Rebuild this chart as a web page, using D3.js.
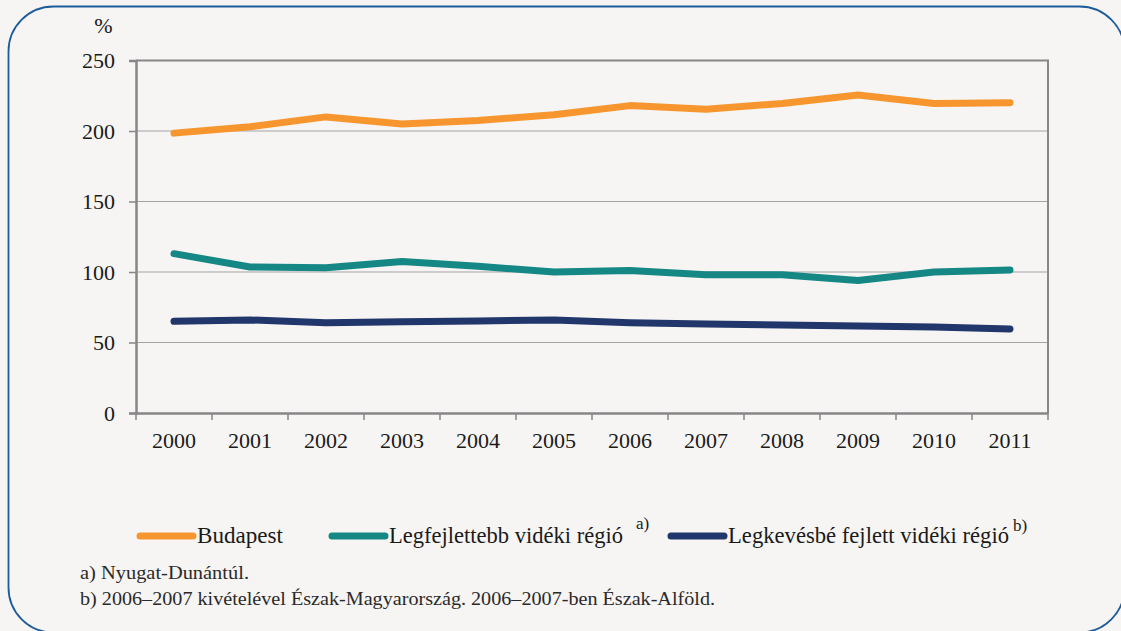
<!DOCTYPE html>
<html>
<head>
<meta charset="utf-8">
<script src="https://cdnjs.cloudflare.com/ajax/libs/d3/7.8.5/d3.min.js"></script>
<style>
  body { margin: 0; background: #f6f5f3; }
  svg { display: block; }
</style>
</head>
<body>
<div id="chart"></div>
<script>
// data
var years = ["2000","2001","2002","2003","2004","2005","2006","2007","2008","2009","2010","2011"];
var budapest = [198.5, 203, 210, 205, 207.5, 211.5, 218, 215.5, 219.5, 225.5, 219.5, 220];
var legfejlettebb = [113, 103.5, 103, 107.5, 104, 100, 101, 98, 98, 94, 100, 101.5];
var legkevesbe = [65, 66, 64, 64.8, 65.2, 66, 64, 63.1, 62.4, 61.7, 61, 59.6];
var yTicks = [0, 50, 100, 150, 200, 250];
var seriesNames = ["Budapest", "Legfejlettebb vidéki régió", "Legkevésbé fejlett vidéki régió"];
var seriesColors = ["#f7962f", "#158784", "#21366b"];
var notes = ["a) Nyugat-Dunántúl.", "b) 2006–2007 kivételével Észak-Magyarország. 2006–2007-ben Észak-Alföld."];

var FONT = "'Liberation Serif', 'DejaVu Serif', serif";
var W = 1121, H = 631;
var margin = {top: 60.5, left: 136, right: 1048, bottom: 413};

var svg = d3.select("#chart").append("svg")
  .attr("width", W).attr("height", H)
  .attr("font-family", FONT);

// frame
svg.append("rect")
  .attr("x", 8.5).attr("y", 6.5)
  .attr("width", 1116).attr("height", 626)
  .attr("rx", 45).attr("ry", 45)
  .attr("fill", "#f6f5f3")
  .attr("stroke", "#1d5c9b")
  .attr("stroke-width", 1.8);

var x = d3.scaleBand().domain(years).range([margin.left, margin.right]);
var y = d3.scaleLinear().domain([0, 250]).range([margin.bottom, margin.top]);

// gridlines
svg.append("g").selectAll("line")
  .data(yTicks.filter(function(d){ return d > 0 && d < 250; }))
  .enter().append("line")
    .attr("x1", margin.left).attr("x2", margin.right)
    .attr("y1", function(d){ return y(d); }).attr("y2", function(d){ return y(d); })
    .attr("stroke", "#a3a1a3").attr("stroke-width", 1.2);

// plot border (top, right)
svg.append("path")
  .attr("d", "M" + margin.left + "," + margin.top + "H" + margin.right + "V" + margin.bottom)
  .attr("fill", "none").attr("stroke", "#878688").attr("stroke-width", 2);

// y axis
var yAxis = svg.append("g")
  .attr("transform", "translate(" + margin.left + ",0)")
  .call(d3.axisLeft(y).tickValues(yTicks).tickSize(7).tickPadding(14));
yAxis.attr("font-family", FONT);
yAxis.select(".domain").attr("stroke", "#878688").attr("stroke-width", 2.5);
yAxis.selectAll(".tick line").attr("stroke", "#878688").attr("stroke-width", 1.5);
yAxis.selectAll(".tick text").style("font-size", "22px").style("font-family", FONT).attr("fill", "#1a1a1a");

// x axis
var xAxis = svg.append("g")
  .attr("transform", "translate(0," + margin.bottom + ")")
  .call(d3.axisBottom(x).tickSize(0).tickPadding(19));
xAxis.attr("font-family", FONT);
xAxis.select(".domain").attr("stroke", "#878688").attr("stroke-width", 2.5);
xAxis.selectAll(".tick text").style("font-size", "22px").style("font-family", FONT).attr("fill", "#1a1a1a");
// ticks between categories
svg.append("g").selectAll("line")
  .data(years.concat(["end"]))
  .enter().append("line")
    .attr("x1", function(d, i){ return margin.left + i * x.step(); })
    .attr("x2", function(d, i){ return margin.left + i * x.step(); })
    .attr("y1", margin.bottom).attr("y2", margin.bottom + 7)
    .attr("stroke", "#878688").attr("stroke-width", 1.5);

// % label
svg.append("text").attr("x", 103.5).attr("y", 33)
  .attr("text-anchor", "middle").style("font-size", "22px").style("font-family", FONT)
  .attr("fill", "#1a1a1a").text("%");

// lines
var line = d3.line()
  .x(function(d, i){ return x(years[i]) + x.bandwidth() / 2; })
  .y(function(d){ return y(d); });

[budapest, legfejlettebb, legkevesbe].forEach(function(s, i) {
  svg.append("path")
    .datum(s)
    .attr("fill", "none")
    .attr("stroke", seriesColors[i])
    .attr("stroke-width", 7)
    .attr("stroke-linecap", "round")
    .attr("stroke-linejoin", "round")
    .attr("d", line);
});

// legend
var legendItems = [
  {x: 140, w: 86, sup: null},
  {x: 332, w: 234, sup: "a)", sx: 636, sy: 529},
  {x: 671, w: 281, sup: "b)", sx: 1013, sy: 531}
];
legendItems.forEach(function(it, i) {
  svg.append("line")
    .attr("x1", it.x).attr("x2", it.x + 53)
    .attr("y1", 536).attr("y2", 536)
    .attr("stroke", seriesColors[i]).attr("stroke-width", 7)
    .attr("stroke-linecap", "round");
  svg.append("text").attr("x", it.x + 57).attr("y", 543)
    .style("font-size", "23px").style("font-family", FONT).attr("fill", "#1a1a1a")
    .attr("textLength", it.w).attr("lengthAdjust", "spacingAndGlyphs")
    .text(seriesNames[i]);
  if (it.sup) {
    svg.append("text")
      .attr("x", it.sx).attr("y", it.sy)
      .style("font-size", "17px").style("font-family", FONT).attr("fill", "#1a1a1a")
      .text(it.sup);
  }
});

// notes
var noteWidths = [169, 635];
notes.forEach(function(n, i) {
  svg.append("text").attr("x", 80).attr("y", 579 + i * 26)
    .style("font-size", "19px").style("font-family", FONT).attr("fill", "#2a2a2a")
    .attr("textLength", noteWidths[i]).attr("lengthAdjust", "spacingAndGlyphs")
    .text(n);
});
</script>
</body>
</html>
